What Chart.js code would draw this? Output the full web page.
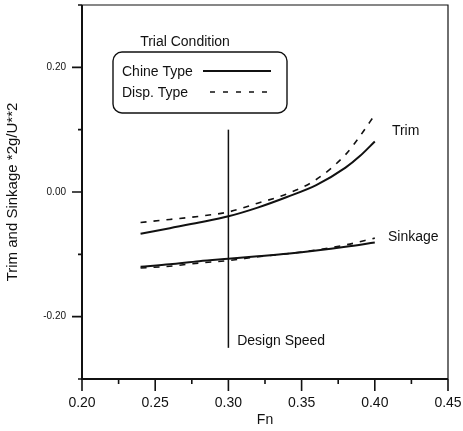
<!DOCTYPE html>
<html><head><meta charset="utf-8">
<script src="https://cdn.jsdelivr.net/npm/chart.js@4/dist/chart.umd.min.js"></script>
<style>html,body{margin:0;padding:0;background:#fff}#wrap{width:463px;height:431px}</style>
</head><body><div id="wrap"><canvas id="c" width="463" height="431"></canvas></div>
<script>
const trimFn = [0.24,0.26,0.28,0.30,0.32,0.34,0.36,0.38,0.39,0.40];
const trimChine = [-0.067,-0.058,-0.049,-0.039,-0.025,-0.008,0.011,0.039,0.058,0.081];
const trimDisp = [-0.049,-0.044,-0.039,-0.032,-0.018,-0.003,0.020,0.060,0.090,0.124];
const sinkFn = [0.24,0.26,0.28,0.30,0.32,0.34,0.36,0.38,0.40];
const sinkChine = [-0.120,-0.116,-0.111,-0.107,-0.103,-0.099,-0.094,-0.088,-0.081];
const sinkDisp = [-0.122,-0.119,-0.114,-0.110,-0.104,-0.099,-0.093,-0.085,-0.074];
const designFn = 0.30;
const designRange = [-0.25, 0.10];
const xTickValues = [0.20,0.25,0.30,0.35,0.40,0.45];
const yTickValues = [-0.30,-0.20,-0.10,0.00,0.10,0.20,0.30];
const yLabelled = [-0.20,0.00,0.20];
const legendTitle = 'Trial Condition';
const seriesNames = ['Chine Type','Disp. Type'];
const annotTexts = ['Trim','Sinkage','Design Speed'];
const annotFn = [0.4117,0.409,0.306];
const annotVal = [0.097,-0.073,-0.239];

const FONT = '"Liberation Sans", Arial, sans-serif';
const pts = (xs, ys) => xs.map((x, i) => ({x, y: ys[i]}));

const drawExtras = {
  id: 'extras',
  afterDraw(chart) {
    const ctx = chart.ctx, a = chart.chartArea;
    const xs = chart.scales.x, ys = chart.scales.y;
    ctx.save();
    ctx.strokeStyle = '#111';
    ctx.lineWidth = 1.2;
    ctx.beginPath();
    ctx.moveTo(a.left, a.top); ctx.lineTo(a.right, a.top); ctx.lineTo(a.right, a.bottom);
    ctx.stroke();
    ctx.lineWidth = 2;
    ctx.beginPath();
    ctx.moveTo(a.left, a.top); ctx.lineTo(a.left, a.bottom); ctx.lineTo(a.right, a.bottom);
    ctx.stroke();
    ctx.lineWidth = 1.6;
    ctx.beginPath();
    xTickValues.forEach((v, i) => {
      const px = xs.getPixelForValue(v);
      ctx.moveTo(px, a.bottom); ctx.lineTo(px, a.bottom + 12);
      if (i < xTickValues.length - 1) {
        const m = xs.getPixelForValue((v + xTickValues[i + 1]) / 2);
        ctx.moveTo(m, a.bottom); ctx.lineTo(m, a.bottom + 5);
      }
    });
    yTickValues.forEach(v => {
      const py = ys.getPixelForValue(v);
      const major = yLabelled.some(l => Math.abs(l - v) < 1e-9);
      ctx.moveTo(a.left, py); ctx.lineTo(a.left - (major ? 10 : 4), py);
    });
    ctx.stroke();
    ctx.fillStyle = '#111';
    ctx.font = '14px ' + FONT;
    ctx.textAlign = 'left'; ctx.textBaseline = 'middle';
    annotTexts.forEach((t, i) => {
      ctx.fillText(t, xs.getPixelForValue(annotFn[i]), ys.getPixelForValue(annotVal[i]));
    });
    ctx.textAlign = 'center';
    ctx.fillText(legendTitle, 185, 42);
    ctx.lineWidth = 1.4;
    ctx.beginPath();
    ctx.roundRect(113, 52, 174, 61, 9);
    ctx.stroke();
    ctx.textAlign = 'left';
    ctx.fillText(seriesNames[0], 122, 72);
    ctx.fillText(seriesNames[1], 122, 93);
    ctx.lineWidth = 2;
    ctx.beginPath(); ctx.moveTo(203, 71); ctx.lineTo(271, 71); ctx.stroke();
    ctx.lineWidth = 1.4;
    ctx.setLineDash([5, 8]);
    ctx.beginPath(); ctx.moveTo(210, 92); ctx.lineTo(271, 92); ctx.stroke();
    ctx.restore();
  }
};

new Chart(document.getElementById('c'), {
  type: 'scatter',
  data: {
    datasets: [
      {label: 'Trim ' + seriesNames[0], data: pts(trimFn, trimChine), showLine: true, borderColor: '#111', borderWidth: 2, pointRadius: 0, cubicInterpolationMode: 'monotone'},
      {label: 'Trim ' + seriesNames[1], data: pts(trimFn, trimDisp), showLine: true, borderColor: '#111', borderWidth: 1.6, borderDash: [6, 7], pointRadius: 0, cubicInterpolationMode: 'monotone'},
      {label: 'Sinkage ' + seriesNames[0], data: pts(sinkFn, sinkChine), showLine: true, borderColor: '#111', borderWidth: 2, pointRadius: 0, cubicInterpolationMode: 'monotone'},
      {label: 'Sinkage ' + seriesNames[1], data: pts(sinkFn, sinkDisp), showLine: true, borderColor: '#111', borderWidth: 1.6, borderDash: [6, 7], pointRadius: 0, cubicInterpolationMode: 'monotone'},
      {label: 'Design Speed', data: [{x: designFn, y: designRange[0]}, {x: designFn, y: designRange[1]}], showLine: true, borderColor: '#111', borderWidth: 1.5, pointRadius: 0}
    ]
  },
  options: {
    responsive: false,
    animation: false,
    devicePixelRatio: 1,
    layout: {padding: {left: 0, top: 5, right: 15, bottom: 0}},
    plugins: {legend: {display: false}, tooltip: {enabled: false}},
    scales: {
      x: {
        type: 'linear', min: 0.20, max: 0.45,
        afterBuildTicks: s => { s.ticks = xTickValues.map(v => ({value: v})); },
        afterFit: s => { s.height = 52; s.paddingLeft = 0; s.paddingRight = 0; },
        ticks: {color: '#111', font: {family: FONT, size: 14}, padding: 16, callback: v => v.toFixed(2)},
        grid: {drawOnChartArea: false, drawTicks: false},
        border: {display: false},
        title: {display: true, text: 'Fn', color: '#111', font: {family: FONT, size: 14}, padding: {top: 0, bottom: 2}}
      },
      y: {
        type: 'linear', min: -0.30, max: 0.30,
        afterBuildTicks: s => { s.ticks = yTickValues.map(v => ({value: v})); },
        afterFit: s => { s.width = 82; s.paddingTop = 0; s.paddingBottom = 0; },
        ticks: {color: '#111', font: {family: FONT, size: 10}, padding: 16,
          callback: v => yLabelled.some(l => Math.abs(l - v) < 1e-9) ? v.toFixed(2) : ''},
        grid: {drawOnChartArea: false, drawTicks: false},
        border: {display: false},
        title: {display: true, text: 'Trim and Sinkage *2g/U**2', color: '#111', font: {family: FONT, size: 15}, padding: {top: 4, bottom: 4}}
      }
    }
  },
  plugins: [drawExtras]
});
</script></body></html>
